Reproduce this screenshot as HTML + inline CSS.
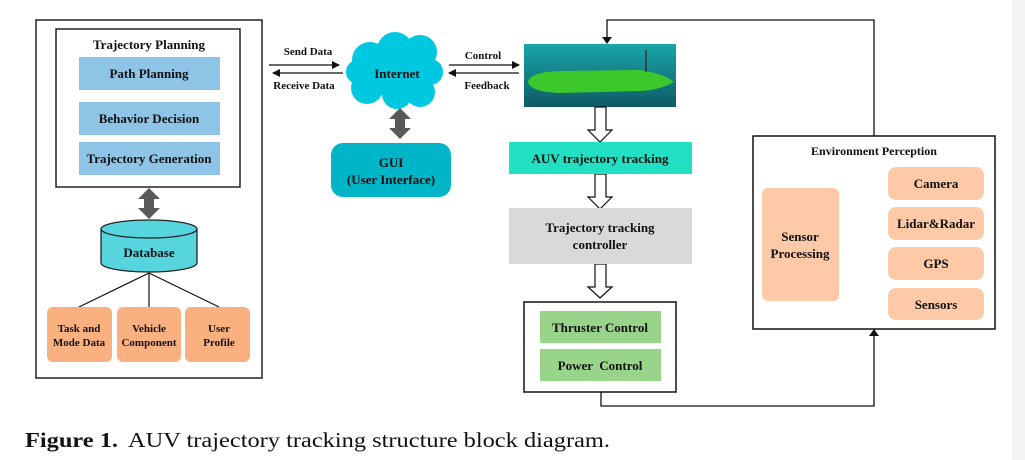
<!DOCTYPE html>
<html><head><meta charset="utf-8"><style>
html,body{margin:0;padding:0;background:#fff;}
svg{display:block;}
text{font-family:"Liberation Serif",serif;font-weight:bold;fill:#111;}
</style></head><body>
<svg width="1025" height="460" viewBox="0 0 1025 460" xmlns="http://www.w3.org/2000/svg">
<defs>
<linearGradient id="sea" x1="0" y1="0" x2="0" y2="1"><stop offset="0" stop-color="#1aa6a8"/><stop offset="1" stop-color="#0d5a66"/></linearGradient>
<marker id="ah" markerWidth="8" markerHeight="8" refX="7" refY="4" orient="auto" markerUnits="userSpaceOnUse"><path d="M0,0 L8,4 L0,8 z" fill="#111"/></marker>
</defs>
<rect x="1012" y="0" width="13" height="460" fill="#f4f4f4"/>
<rect x="36" y="20" width="226" height="358" fill="none" stroke="#222" stroke-width="1.5"/>
<rect x="56" y="29" width="184" height="158" fill="none" stroke="#222" stroke-width="1.5"/>
<text x="149" y="49" font-size="13" text-anchor="middle">Trajectory Planning</text>
<rect x="79" y="57" width="141" height="33" fill="#8ec4e6"/>
<text x="149" y="78" font-size="13" text-anchor="middle">Path Planning</text>
<rect x="79" y="102" width="141" height="33" fill="#8ec4e6"/>
<text x="149" y="123" font-size="13" text-anchor="middle">Behavior Decision</text>
<rect x="79" y="142" width="141" height="33" fill="#8ec4e6"/>
<text x="149" y="163" font-size="13" text-anchor="middle">Trajectory Generation</text>
<path d="M149,188 L160,199 L154,199 L154,208 L160,208 L149,219 L138,208 L144,208 L144,199 L138,199 z" fill="#595959"/>
<path d="M101,229 L101,263 A48,9 0 0 0 197,263 L197,229" fill="#56d5de" stroke="#222" stroke-width="1.3"/>
<ellipse cx="149" cy="229" rx="48" ry="9" fill="#56d5de" stroke="#222" stroke-width="1.3"/>
<text x="149" y="257" font-size="13" text-anchor="middle">Database</text>
<g stroke="#111" stroke-width="1.2"><line x1="149" y1="273" x2="79" y2="307"/><line x1="149" y1="273" x2="149" y2="307"/><line x1="149" y1="273" x2="219" y2="307"/></g>
<rect x="47" y="307" width="65" height="55" rx="6" fill="#fbb07f"/>
<rect x="117" y="307" width="64" height="55" rx="6" fill="#fbb07f"/>
<rect x="185" y="307" width="65" height="55" rx="6" fill="#fbb07f"/>
<g font-size="11" text-anchor="middle"><text x="79" y="332">Task and</text><text x="79" y="346">Mode Data</text>
<text x="149" y="332">Vehicle</text><text x="149" y="346">Component</text>
<text x="219" y="332">User</text><text x="219" y="346">Profile</text></g>
<g stroke="#111" stroke-width="1.3"><line x1="269" y1="65" x2="339" y2="65" marker-end="url(#ah)"/><line x1="343" y1="73" x2="273" y2="73" marker-end="url(#ah)"/>
<line x1="449" y1="65" x2="519" y2="65" marker-end="url(#ah)"/><line x1="519" y1="73" x2="449" y2="73" marker-end="url(#ah)"/></g>
<g font-size="11" text-anchor="middle"><text x="308" y="55">Send Data</text><text x="304" y="89">Receive Data</text><text x="483" y="59">Control</text><text x="487" y="89">Feedback</text></g>
<g fill="#00c8e0"><circle cx="370" cy="60" r="18"/><circle cx="395" cy="50" r="18"/><circle cx="420" cy="52" r="17"/><circle cx="430" cy="72" r="13"/><circle cx="420" cy="92" r="15"/><circle cx="397" cy="94" r="15"/><circle cx="367" cy="88" r="16"/><circle cx="358" cy="72" r="12"/><rect x="362" y="55" width="65" height="40"/></g>
<text x="397" y="78" font-size="13" text-anchor="middle">Internet</text>
<path d="M400,108 L411,119 L405,119 L405,128 L411,128 L400,139 L389,128 L395,128 L395,119 L389,119 z" fill="#595959"/>
<rect x="331" y="143" width="120" height="54" rx="12" fill="#00b5c8"/>
<text x="391" y="167" font-size="13" text-anchor="middle">GUI</text>
<text x="391" y="184" font-size="13" text-anchor="middle">(User Interface)</text>
<rect x="524" y="44" width="152" height="63" fill="url(#sea)"/>
<path d="M528,82 Q530,72 560,71 L640,70 Q665,74 674,82 Q660,90 640,91 L560,93 Q530,92 528,82 z" fill="#3cc82a"/>
<line x1="646" y1="50" x2="646" y2="72" stroke="#333" stroke-width="1.5"/>
<g fill="none" stroke="#111" stroke-width="1.3"><polyline points="874,136 874,20 607,20 607,40"/><polyline points="601,392 601,406 874,406 874,334"/></g>
<path d="M602,37 L612,37 L607,44 z" fill="#111"/>
<path d="M869,336 L879,336 L874,329 z" fill="#111"/>
<g fill="#fff" stroke="#111" stroke-width="1.2">
<path d="M595,107 L606,107 L606,130 L612,130 L600,142 L588,130 L595,130 z"/>
<path d="M595,174 L606,174 L606,197 L612,197 L600,209 L588,197 L595,197 z"/>
<path d="M595,264 L606,264 L606,287 L612,287 L600,298 L588,287 L595,287 z"/>
<path d="M883,238 L883,249 L860,249 L860,255 L848,243.5 L860,232 L860,238 z"/></g>
<rect x="509" y="142" width="183" height="32" fill="#22e0c4"/>
<text x="600" y="163" font-size="13" text-anchor="middle">AUV trajectory tracking</text>
<rect x="509" y="208" width="183" height="56" fill="#d9d9d9"/>
<text x="600" y="232" font-size="13" text-anchor="middle">Trajectory tracking</text>
<text x="600" y="249" font-size="13" text-anchor="middle">controller</text>
<rect x="524" y="302" width="152" height="90" fill="#fff" stroke="#111" stroke-width="1.5"/>
<rect x="540" y="311" width="121" height="32" fill="#98d48a"/>
<rect x="540" y="349" width="121" height="32" fill="#98d48a"/>
<text x="600" y="332" font-size="13" text-anchor="middle">Thruster Control</text>
<text x="600" y="370" font-size="13" text-anchor="middle" xml:space="preserve">Power  Control</text>
<rect x="753" y="136" width="242" height="193" fill="#fff" stroke="#111" stroke-width="1.5"/>
<text x="874" y="155" font-size="12" text-anchor="middle">Environment Perception</text>
<rect x="762" y="188" width="77" height="113" rx="6" fill="#fdc9a6"/>
<text x="800" y="241" font-size="13" text-anchor="middle">Sensor</text>
<text x="800" y="258" font-size="13" text-anchor="middle">Processing</text>
<g fill="#fdc9a6"><rect x="888" y="167" width="96" height="33" rx="8"/><rect x="888" y="207" width="96" height="33" rx="8"/><rect x="888" y="247" width="96" height="33" rx="8"/><rect x="888" y="288" width="96" height="32" rx="8"/></g>
<g font-size="13" text-anchor="middle"><text x="936" y="188">Camera</text><text x="936" y="228">Lidar&amp;Radar</text><text x="936" y="268">GPS</text><text x="936" y="309">Sensors</text></g>
<text x="25" y="447" font-size="21" textLength="93" lengthAdjust="spacingAndGlyphs">Figure 1.</text>
<text x="128" y="447" font-size="21" style="font-weight:normal" textLength="482" lengthAdjust="spacingAndGlyphs">AUV trajectory tracking structure block diagram.</text>
</svg>
</body></html>
